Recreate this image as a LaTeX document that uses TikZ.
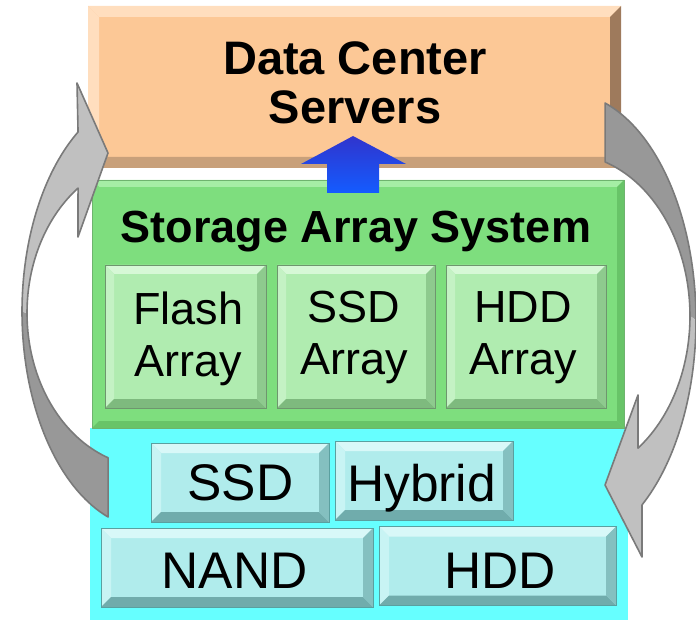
\documentclass[tikz,border=0pt]{standalone}
\usepackage{fontspec}
\setmainfont{Liberation Sans}
\usetikzlibrary{arrows.meta}
\definecolor{srvface}{RGB}{252,200,150}
\definecolor{srvlight}{RGB}{255,222,190}
\definecolor{srvbot}{RGB}{200,160,122}
\definecolor{srvright}{RGB}{158,122,92}
\definecolor{stoface}{RGB}{126,222,126}
\definecolor{stolight}{RGB}{165,238,165}
\definecolor{stodark}{RGB}{104,196,104}
\definecolor{stoline}{RGB}{110,180,110}
\definecolor{arrface}{RGB}{176,236,176}
\definecolor{arrlight}{RGB}{214,248,214}
\definecolor{arrleft}{RGB}{196,242,196}
\definecolor{arrbot}{RGB}{126,186,126}
\definecolor{arrright}{RGB}{142,202,142}
\definecolor{arrline}{RGB}{110,150,110}
\definecolor{cyanbg}{RGB}{102,255,255}
\definecolor{devface}{RGB}{176,236,236}
\definecolor{devlight}{RGB}{216,248,248}
\definecolor{devleft}{RGB}{200,244,244}
\definecolor{devbot}{RGB}{112,172,172}
\definecolor{devright}{RGB}{132,192,192}
\definecolor{devline}{RGB}{90,160,160}
\definecolor{flowlo}{RGB}{20,92,255}
\definecolor{flowhi}{RGB}{48,52,205}
\definecolor{loopfront}{RGB}{192,192,192}
\definecolor{loopback}{RGB}{152,152,152}
\definecolor{loopline}{RGB}{122,122,122}
\newcommand{\bevel}[6]{%
\fill[#3] (#1.north west) -- (#1.north east) -- ([shift={(-#2,#2)}]#1.north east) -- ([shift={(#2,#2)}]#1.north west) -- cycle;
\fill[#4] (#1.north west) -- ([shift={(#2,#2)}]#1.north west) -- ([shift={(#2,-#2)}]#1.south west) -- (#1.south west) -- cycle;
\fill[#5] (#1.south west) -- ([shift={(#2,-#2)}]#1.south west) -- ([shift={(-#2,-#2)}]#1.south east) -- (#1.south east) -- cycle;
\fill[#6] (#1.north east) -- (#1.south east) -- ([shift={(-#2,-#2)}]#1.south east) -- ([shift={(-#2,#2)}]#1.north east) -- cycle;}
\tikzset{
  box/.style={rectangle, inner sep=0pt, outer sep=0pt},
  arraybox/.style={box, fill=arrface, minimum height=143pt},
  devbox/.style={box, fill=devface, minimum height=79pt},
  lbl/.style={inner sep=0pt, align=center},
  loop/.style={draw=loopline, line width=1.6pt, line join=round}
}

\begin{document}
\begin{tikzpicture}[x=1pt,y=-1pt]
\useasboundingbox (0,0) rectangle (696,620);
\node[box, fill=cyanbg, minimum width=538pt, minimum height=192pt] (devices) at (359,524) {};
\node[box, fill=srvface, minimum width=533pt, minimum height=162pt] (servers) at (354.5,87) {};
\bevel{servers}{11}{srvlight}{srvlight}{srvbot}{srvright}
\node[box, fill=stoface, minimum width=532pt, minimum height=248pt] (storage) at (358,304) {};
\bevel{storage}{7}{stolight}{stoface}{stodark}{stodark}
\draw[stoline] (storage.north west) rectangle (storage.south east);
\node[arraybox, minimum width=161pt] (flash) at (185.5,336.5) {};
\node[arraybox, minimum width=158pt] (ssdarr) at (356,336.5) {};
\node[arraybox, minimum width=160pt] (hddarr) at (526,336.5) {};
\foreach \b in {flash,ssdarr,hddarr}{
  \bevel{\b}{9}{arrlight}{arrleft}{arrbot}{arrright}
  \draw[arrline] (\b.north west) rectangle (\b.south east);
}
\node[devbox, minimum width=178pt] (ssd) at (240,482.5) {};
\node[devbox, minimum width=178pt] (hybrid) at (424,480.5) {};
\node[devbox, minimum width=272pt] (nand) at (237,567.5) {};
\node[devbox, minimum width=237pt] (hdd) at (497.5,566) {};
\foreach \b in {ssd,hybrid,nand,hdd}{
  \bevel{\b}{10}{devlight}{devleft}{devbot}{devright}
  \draw[devline] (\b.north west) rectangle (\b.south east);
}
\node[lbl, anchor=north, font=\fontsize{47}{49}\selectfont\bfseries] (srvtxt) at (355,41.5) {Data Center\\Servers};
\node[lbl, anchor=base, font=\fontsize{45}{52}\selectfont\bfseries] (stotxt) at (356,243) {Storage Array System};
\node[lbl, anchor=north, font=\fontsize{45}{52}\selectfont] (flashtxt) at (188.5,291.5) {Flash\\Array};
\node[lbl, anchor=north, font=\fontsize{45}{52}\selectfont] (ssdarrtxt) at (354,291) {SSD\\Array};
\node[lbl, anchor=north, font=\fontsize{45}{52}\selectfont] (hddarrtxt) at (523,291.5) {HDD\\Array};
\node[lbl, anchor=base, font=\fontsize{51.5}{56}\selectfont] (ssdtxt) at (240.5,500) {SSD};
\node[lbl, anchor=base, font=\fontsize{51.5}{56}\selectfont] (hybridtxt) at (421.5,501.5) {Hybrid};
\node[lbl, anchor=base, font=\fontsize{51.5}{56}\selectfont] (nandtxt) at (234.5,588) {NAND};
\node[lbl, anchor=base, font=\fontsize{51.5}{56}\selectfont] (hddtxt) at (500,588) {HDD};
\shade[bottom color=flowlo, top color=flowhi] (327,193) -- (327,164) -- (301,164) -- (353,136) -- (406,164) -- (379,164) -- (379,193) -- cycle;
\fill[loopback] plot[domain=109.1:180, samples=40] ({150+128*cos(\x)},{311.7+217.3*sin(\x)})
   -- plot[domain=180:109.9, samples=40] ({150+123*cos(\x)},{313+154*sin(\x)}) -- cycle;
\fill[loopfront] plot[domain=180:235.8, samples=40] ({150+128*cos(\x)},{311.7+217.3*sin(\x)})
   -- (77,83) -- (108,153) -- (78,237)
   -- plot[domain=234.2:180, samples=40] ({150+123*cos(\x)},{313+154*sin(\x)}) -- cycle;
\draw[loop] plot[domain=109.1:235.8, samples=80] ({150+128*cos(\x)},{311.7+217.3*sin(\x)})
   -- (77,83) -- (108,153) -- (78,237)
   -- plot[domain=234.2:109.9, samples=80] ({150+123*cos(\x)},{313+154*sin(\x)}) -- cycle;
\fill[loopback] plot[domain=-72.5:0, samples=40] ({566+130*cos(\x)},{320.2+227.7*sin(\x)})
   -- plot[domain=0:-71.6, samples=40] ({566+124*cos(\x)},{316+162.3*sin(\x)}) -- cycle;
\fill[loopfront] plot[domain=0:54.2, samples=40] ({566+130*cos(\x)},{320.2+227.7*sin(\x)})
   -- (642,557) -- (605,485) -- (638,395)
   -- plot[domain=54.5:0, samples=40] ({566+124*cos(\x)},{316+162.3*sin(\x)}) -- cycle;
\draw[loop] plot[domain=-72.5:54.2, samples=80] ({566+130*cos(\x)},{320.2+227.7*sin(\x)})
   -- (642,557) -- (605,485) -- (638,395)
   -- plot[domain=54.5:-71.6, samples=80] ({566+124*cos(\x)},{316+162.3*sin(\x)}) -- cycle;
\end{tikzpicture}
\end{document}
